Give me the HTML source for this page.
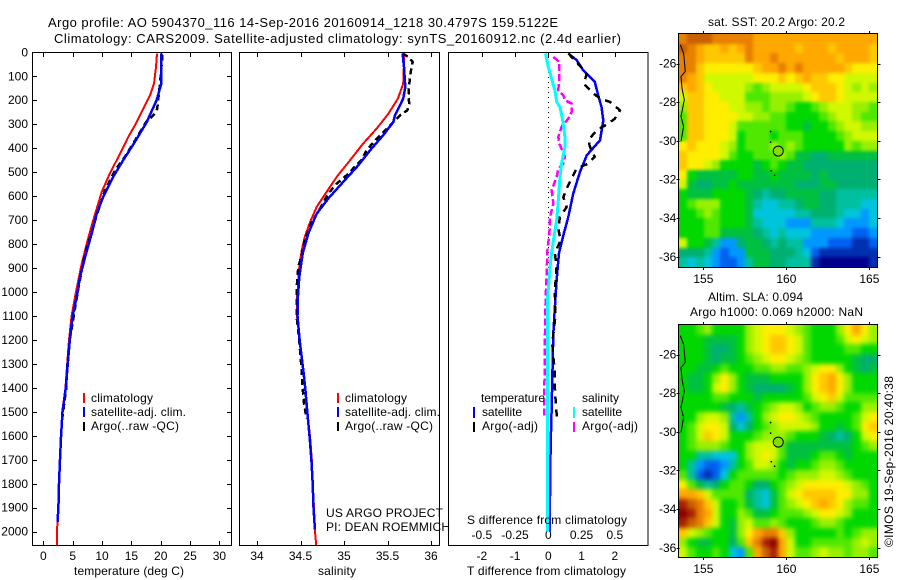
<!DOCTYPE html>
<html lang="en">
<head>
<meta charset="utf-8">
<title>Argo profile 5904370_116</title>
<style>
html,body{margin:0;padding:0;background:#fff;width:900px;height:580px;overflow:hidden}
svg{display:block}
text{font-family:"Liberation Sans",Arial,sans-serif;font-size:12px;fill:#000}
text.big{font-size:13px}
</style>
</head>
<body>
<svg id="figure" xmlns="http://www.w3.org/2000/svg" width="900" height="580" viewBox="0 0 900 580">
  <defs>
    <filter id="softSST" x="-5%" y="-5%" width="110%" height="110%" color-interpolation-filters="sRGB"><feGaussianBlur stdDeviation="1.6"/></filter>
    <filter id="softSLA" x="-5%" y="-5%" width="110%" height="110%" color-interpolation-filters="sRGB"><feGaussianBlur stdDeviation="2.5"/></filter>
  </defs>
  <rect x="0" y="0" width="900" height="580" fill="#fff"/>
  <text class="big" x="48" y="27" textLength="510" lengthAdjust="spacing">Argo profile: AO 5904370_116 14-Sep-2016 20160914_1218 30.4797S 159.5122E</text>
  <text class="big" x="54" y="43" textLength="567" lengthAdjust="spacing">Climatology: CARS2009. Satellite-adjusted climatology: synTS_20160912.nc (2.4d earlier)</text>

  <g id="panelT"></g>
  <g id="panelS"></g>
  <g id="panelD"></g>
  <g id="mapSST"></g>
  <g id="mapSLA"></g>

  <text x="74" y="575" textLength="110" lengthAdjust="spacing">temperature (deg C)</text>
  <text x="318" y="575" textLength="38" lengthAdjust="spacing">salinity</text>
  <text x="467" y="575" textLength="159" lengthAdjust="spacing">T difference from climatology</text>
  <text x="467" y="524" textLength="160" lengthAdjust="spacing">S difference from climatology</text>

  <g>
    <line x1="84" y1="393" x2="84" y2="403" stroke="#f00" stroke-width="2" shape-rendering="crispEdges"/>
    <line x1="84" y1="407" x2="84" y2="417" stroke="#00f" stroke-width="2" shape-rendering="crispEdges"/>
    <line x1="84" y1="422" x2="84" y2="431" stroke="#000" stroke-width="2" shape-rendering="crispEdges"/>
    <text x="91" y="402" textLength="62" lengthAdjust="spacing">climatology</text>
    <text x="91" y="416" textLength="95" lengthAdjust="spacing">satellite-adj. clim.</text>
    <text x="91" y="430" textLength="88" lengthAdjust="spacing">Argo(..raw -QC)</text>
  </g>
  <g>
    <line x1="338" y1="393" x2="338" y2="403" stroke="#f00" stroke-width="2" shape-rendering="crispEdges"/>
    <line x1="338" y1="407" x2="338" y2="417" stroke="#00f" stroke-width="2" shape-rendering="crispEdges"/>
    <line x1="338" y1="422" x2="338" y2="431" stroke="#000" stroke-width="2" shape-rendering="crispEdges"/>
    <text x="345" y="402" textLength="62" lengthAdjust="spacing">climatology</text>
    <text x="345" y="416" textLength="95" lengthAdjust="spacing">satellite-adj. clim.</text>
    <text x="345" y="430" textLength="88" lengthAdjust="spacing">Argo(..raw -QC)</text>
  </g>
  <text x="326" y="517" textLength="117" lengthAdjust="spacing">US ARGO PROJECT</text>
  <text x="326" y="531" textLength="124" lengthAdjust="spacing">PI: DEAN ROEMMICH</text>

  <g>
    <text x="481" y="402" textLength="64" lengthAdjust="spacing">temperature</text>
    <line x1="474" y1="407" x2="474" y2="418" stroke="#00f" stroke-width="2" shape-rendering="crispEdges"/>
    <text x="482" y="416" textLength="40" lengthAdjust="spacing">satellite</text>
    <line x1="474" y1="422" x2="474" y2="432" stroke="#000" stroke-width="2" shape-rendering="crispEdges"/>
    <text x="482" y="430" textLength="56" lengthAdjust="spacing">Argo(-adj)</text>
    <text x="582" y="402" textLength="37" lengthAdjust="spacing">salinity</text>
    <line x1="574" y1="407" x2="574" y2="418" stroke="#0ff" stroke-width="2" shape-rendering="crispEdges"/>
    <text x="582" y="416" textLength="40" lengthAdjust="spacing">satellite</text>
    <line x1="574" y1="422" x2="574" y2="432" stroke="#f0f" stroke-width="2" shape-rendering="crispEdges"/>
    <text x="582" y="430" textLength="56" lengthAdjust="spacing">Argo(-adj)</text>
  </g>

  <text x="708" y="26" textLength="137" lengthAdjust="spacing">sat. SST: 20.2 Argo: 20.2</text>
  <text x="708" y="301" textLength="95" lengthAdjust="spacing">Altim. SLA: 0.094</text>
  <text x="690" y="316" textLength="173" lengthAdjust="spacing">Argo h1000: 0.069 h2000: NaN</text>
  <text transform="translate(893,547) rotate(-90)" textLength="171" lengthAdjust="spacing">©IMOS 19-Sep-2016 20:40:38</text>
</svg>

<script>
// ---------- Chart data ----------
const depthTicks = [0,100,200,300,400,500,600,700,800,900,1000,1100,1200,1300,1400,1500,1600,1700,1800,1900,2000];
const tempTicks = [0,5,10,15,20,25,30];
const salTicks = [34,34.5,35,35.5,36];
const tDiffTicks = [-2,-1,0,1,2];
const tDiffTickLabels = ['-2','-1','0','1','2'];
const sDiffTicks = [-0.5,-0.25,0,0.25,0.5];
const sDiffTickLabels = ['-0.5','-0.25','0','0.25','0.5'];
const lonTicks = [155,160,165];
const latTicks = [-26,-28,-30,-32,-34,-36];

const tClimP = [5,61,131,180,235,291,353,409,464,520,583,652,722,798,882,951,1021,1100,1200,1327,1403,1500,1605,1700,1800,1900,2000,2055];
const tClimV = [19.36,19.2,18.85,18.17,17.03,15.9,14.47,13.34,12.2,11.06,9.93,9.08,8.23,7.38,6.53,5.95,5.39,4.8,4.36,3.97,3.75,3.2,3.0,2.85,2.68,2.55,2.3,2.3];
const tSatP = [5,131,200,291,374,450,520,603,673,756,854,937,1007,1100,1200,1327,1403,1500,1605,1700,1800,1900,1960];
const tSatV = [20.1,20.1,19.3,17.6,15.6,13.6,11.9,10.2,9.08,8.23,7.1,6.24,5.78,5.0,4.5,4.05,3.8,3.25,3.0,2.83,2.66,2.55,2.4];
const tArgoP = [10,131,235,256,291,381,450,492,575,686,742,839,880,1000,1200,1300,1400,1500,1530];
const tArgoV = [20.3,19.87,19.4,19.0,17.5,15.3,13.5,12.2,10.5,9.0,8.35,7.1,6.75,5.85,4.5,4.1,3.9,3.35,3.2];

const sClimP = [5,131,193,256,318,381,450,520,583,645,708,770,826,895,992,1034,1100,1200,1327,1403,1500,1605,1700,1800,1900,2000,2055];
const sClimV = [35.693,35.68,35.62,35.51,35.376,35.22,35.07,34.916,34.8,34.686,34.61,34.55,34.514,34.486,34.468,34.456,34.46,34.49,34.532,34.555,34.578,34.61,34.63,34.64,34.655,34.667,34.68];
const sSatP = [5,61,145,193,263,291,346,409,471,541,610,673,756,839,937,1034,1100,1200,1327,1403,1500,1605,1700,1800,1900,1990];
const sSatV = [35.674,35.69,35.705,35.68,35.586,35.567,35.45,35.3,35.165,34.99,34.82,34.686,34.59,34.525,34.486,34.468,34.465,34.49,34.532,34.555,34.578,34.605,34.625,34.64,34.65,34.665];
const sArgoP = [5,19,40,82,131,186,214,242,263,305,360,409,450,513,548,589,652,708,784,847,895,964,1100,1200,1327,1403,1465,1530];
const sArgoV = [35.674,35.74,35.79,35.767,35.75,35.74,35.75,35.728,35.644,35.53,35.376,35.26,35.2,35.03,34.916,34.82,34.724,34.63,34.55,34.514,34.475,34.46,34.455,34.485,34.514,34.525,34.54,34.57];

const dTSatP = [5,33,75,124,179,228,284,367,430,499,590,687,764,840,952,1034,1174,1493,1646,1855,2000];
const dTSatV = [0.6,0.853,1.05,1.4,1.5,1.6,1.655,1.555,1.155,0.953,0.75,0.6,0.45,0.32,0.25,0.21,0.15,0.1,0.07,0.05,0.05];
const dTArgoP = [5,33,89,131,165,193,207,242,277,298,325,367,395,436,464,485,513,569,604,646,687,736,784,840,895,993,1103,1215,1271,1334,1397,1453,1508,1522];
const dTArgoV = [0.6,0.8,1.155,1.075,1.3,1.555,1.855,2.155,2.0,1.8,1.455,1.205,1.255,1.4,1.205,0.853,0.75,0.55,0.45,0.55,0.35,0.3,0.37,0.2,0.25,0.2,0.21,0.12,0.15,0.2,0.2,0.22,0.25,0.25];
const dSSatP = [5,61,110,159,207,228,284,353,395,464,520,617,700,784,867,1034,1243,2000];
const dSSatV = [-0.02,0,0.025,0.05,0.063,0.088,0.108,0.125,0.125,0.1,0.088,0.075,0.063,0.038,0.018,-0.007,-0.007,-0.007];
const dSArgoP = [19,40,103,159,179,200,214,249,277,311,353,381,436,464,485,520,575,631,687,756,826,923,1032,1174,1453,1522];
const dSArgoV = [0.038,0.083,0.083,0.075,0.113,0.125,0.176,0.176,0.15,0.1,0.075,0.083,0.125,0.113,0.075,0.063,0.025,0.038,0.013,0.008,-0.007,-0.012,-0.02,-0.025,-0.03,-0.03];

// Map values: colour-scale level per cell (north to south, west to east)
const sstLevels = [
[15,16,16,16,15,15,15,15,15,14,14,14,14,14,14,14,14,14,14,14,14,14,14,14],
[16,15,14,13,13,14,13,14,15,14,14,14,14,14,13,14,14,14,13,14,14,14,14,13],
[15,15,14,13,13,13,13,13,15,14,14,15,14,14,14,14,14,14,14,13,14,14,14,13],
[15,15,13,12,12,12,12,12,12,13,14,14,15,14,15,14,14,14,14,14,13,12,12,12],
[15,14,13,11,11,11,11,11,11,12,12,12,13,12,13,14,13,13,12,12,11,11,11,11],
[13,14,13,12,11,11,11,11,10,9,10,11,11,11,11,12,13,13,13,12,11,10,11,10],
[11,13,13,12,12,11,11,11,9,9,9,10,10,10,10,11,12,13,13,12,11,11,11,11],
[10,13,13,12,12,12,11,11,10,10,9,10,10,9,8,8,9,10,11,11,11,10,10,9],
[9,13,13,12,12,12,12,11,11,10,10,9,9,8,8,8,8,9,10,11,11,10,9,9],
[9,13,13,12,12,12,11,9,9,9,9,9,9,8,8,7,8,8,9,10,11,11,10,10],
[9,13,13,12,12,12,11,8,9,9,9,8,9,9,9,8,8,8,8,9,10,11,11,11],
[12,13,12,12,12,11,10,8,9,9,9,10,9,10,9,8,8,8,8,8,10,9,10,10],
[13,12,12,12,12,11,9,8,8,9,9,9,10,9,7,7,6,6,7,7,7,7,7,7],
[13,12,12,11,10,8,8,8,8,7,8,9,8,7,7,6,6,6,6,6,6,6,6,6],
[12,8,7,7,7,7,7,8,8,7,7,8,7,7,7,7,6,7,6,6,6,6,6,6],
[11,7,6,6,7,7,8,7,7,7,7,7,7,7,6,6,6,7,7,6,6,6,6,6],
[8,7,7,7,8,8,8,8,7,6,5,6,6,7,7,7,7,6,6,5,5,5,5,5],
[8,9,10,10,10,8,8,8,7,5,4,4,5,5,6,7,7,6,6,5,5,5,4,4],
[8,8,9,10,9,8,8,8,7,4,4,4,4,4,5,5,6,6,6,5,4,4,3,4],
[8,8,8,9,9,8,8,8,7,5,4,4,4,3,3,3,5,5,5,4,3,3,3,4],
[8,8,8,9,9,7,7,7,7,6,5,4,5,4,4,4,3,3,3,3,3,2,2,3],
[11,8,8,7,5,3,3,6,7,7,6,5,6,5,5,3,3,3,2,2,2,1,1,2],
[6,6,6,5,3,2,3,3,7,7,7,6,6,6,5,4,2,1,1,1,1,1,1,1],
[5,4,5,4,3,2,2,3,5,7,7,6,6,5,5,5,1,0,0,0,0,0,0,1]
];
const slaLevels = [
[8,8,9,10,8,8,8,8,10,11,12,12,12,11,10,9,8,8,8,10,12,14,12,10],
[8,8,8,7,7,7,7,8,10,11,12,13,13,12,11,9,8,8,8,9,11,12,11,10],
[8,8,8,7,6,6,7,8,10,11,12,13,13,12,11,9,8,8,8,8,9,9,8,8],
[8,8,8,7,6,7,7,8,9,10,11,12,12,11,10,9,8,8,8,8,8,7,6,6],
[8,8,7,7,8,9,8,8,8,9,9,10,10,9,9,10,11,12,12,10,8,7,6,7],
[8,7,7,8,10,12,10,8,7,7,7,8,8,8,8,10,12,13,14,12,10,8,8,8],
[8,7,7,8,11,12,10,8,7,6,6,6,6,7,8,10,12,13,14,12,10,8,8,8],
[8,8,8,8,9,9,8,8,8,7,8,8,8,8,8,9,11,12,13,11,9,9,9,9],
[8,8,8,8,8,7,6,5,7,8,9,10,11,11,10,8,9,10,10,9,8,8,10,10],
[8,8,10,11,11,10,5,3,5,8,10,11,12,12,11,10,9,8,8,8,8,9,11,12],
[8,9,11,12,12,11,6,4,6,8,9,10,11,11,11,11,10,8,8,7,8,9,12,13],
[8,9,11,13,12,11,8,8,8,9,10,10,10,9,8,8,8,7,6,5,6,8,11,12],
[8,9,10,10,10,9,8,8,10,11,11,11,9,7,7,7,7,7,7,7,7,8,9,10],
[8,8,5,5,4,4,4,8,10,11,12,11,9,7,7,7,8,9,9,8,7,8,8,8],
[8,5,3,2,2,3,5,8,9,11,11,10,8,7,8,8,9,10,10,9,8,8,8,8],
[9,5,2,1,2,4,8,9,9,9,9,9,8,9,10,10,10,11,11,10,9,8,8,8],
[12,9,7,5,6,8,9,9,8,6,6,8,9,10,11,12,12,12,12,12,11,10,9,8],
[14,14,13,11,9,9,9,9,6,5,4,7,9,11,12,13,13,13,13,12,12,10,10,8],
[17,16,15,13,11,8,8,9,7,5,4,7,9,10,11,12,13,14,13,12,10,9,9,8],
[18,17,15,14,11,8,8,10,9,7,7,8,9,9,9,10,11,12,12,11,10,8,8,8],
[17,16,15,13,11,8,7,10,11,9,9,10,9,8,8,8,9,10,10,9,8,8,8,8],
[13,11,10,9,8,8,7,10,12,14,15,15,13,10,8,8,8,8,8,9,8,9,10,10],
[10,8,7,7,8,8,6,9,13,15,17,18,14,11,8,8,9,9,9,9,9,10,11,10],
[11,9,8,8,9,8,4,3,9,14,16,17,14,11,9,9,10,11,10,10,9,10,10,9]
];
const coastLon = [153.61,153.81,153.91,153.65,153.71,153.85,153.65,153.81,153.65];
const coastLat = [-25.03,-25.47,-26.41,-26.67,-27.28,-27.88,-28.74,-29.26,-30.03];
const reefLon = [159.05,159.05,159.09,159.29];
const reefLat = [-29.52,-30.07,-31.55,-31.78];
const floatLon = 159.51;
const floatLat = -30.53;

// ---------- Drawing ----------
const palette = ['#00008c','#0030b0','#0060f0','#0098ff','#00c4dc','#00c0a0','#00b070','#00c040','#00d800','#50e800','#98f000','#d0f800','#ffee00','#ffc800','#ffa800','#e88000','#c86000','#a82000','#880000'];
const NS = 'http://www.w3.org/2000/svg';
const TOP = 52, BOTTOM = 545;

function add(parent, tag, props, label) {
  const el = document.createElementNS(NS, tag);
  for (const k in props) el.setAttribute(k, props[k]);
  if (label !== undefined) el.textContent = label;
  parent.appendChild(el);
  return el;
}
const yDepth = p => 52.3 + 0.2397 * p;
const xTemp = t => 43.4 + 5.867 * t;
const xSal = s => 257 + 87 * (s - 34);
const xDT = d => 548.3 + 33.25 * d;
const xDS = d => 548.3 + 133 * d;

function frame(g, left, right, name) {
  const r = add(g, 'rect', {x:left, y:TOP+0.5, width:right-left, height:BOTTOM-TOP, fill:'none', stroke:'#000', 'stroke-width':1, 'shape-rendering':'crispEdges'});
  
  
}
function tick(g, x1, y1, x2, y2, name) {
  const l = add(g, 'line', {x1, y1, x2, y2, stroke:'#000', 'stroke-width':1, 'shape-rendering':'crispEdges'});
  
  
}
function label(g, x, y, anchor, str, name) {
  const t = add(g, 'text', {x, y, 'text-anchor':anchor}, str);
  
  
}
function series(g, xs, ps, xf, color, width, dash, name) {
  const pts = xs.map((v, i) => xf(v).toFixed(1) + ',' + yDepth(ps[i]).toFixed(1)).join(' ');
  const props = {points:pts, fill:'none', stroke:color, 'stroke-width':width, 'shape-rendering':'crispEdges', 'stroke-linejoin':'round'};
  if (dash) props['stroke-dasharray'] = dash;
  const l = add(g, 'polyline', props);
  
  
}

// Temperature panel
const gT = document.getElementById('panelT');
depthTicks.forEach(p => {
  const y = Math.round(yDepth(p)) + 0.5;
  tick(gT, 32, y, 37, y, 'depth-tick-left');
  tick(gT, 227, y, 232, y, 'depth-tick-right');
  label(gT, 28, yDepth(p) + 4, 'end', String(p), 'depth-tick-label');
});
tempTicks.forEach(t => {
  const x = Math.round(xTemp(t)) + 0.5;
  tick(gT, x, 52, x, 57, 'temperature-tick-top');
  tick(gT, x, 541, x, 545, 'temperature-tick-bottom');
  label(gT, xTemp(t), 560, 'middle', String(t), 'temperature-tick-label');
});
series(gT, tClimV, tClimP, xTemp, '#f00', 2, null, 'temperature-climatology-line');
series(gT, tArgoV, tArgoP, xTemp, '#000', 2.5, '6 4', 'temperature-argo-line');
series(gT, tSatV, tSatP, xTemp, '#00f', 2.5, null, 'temperature-satellite-line');
frame(gT, 32.5, 231.5, 'temperature-plot-frame');

// Salinity panel
const gS = document.getElementById('panelS');
salTicks.forEach(s => {
  const x = Math.round(xSal(s)) + 0.5;
  tick(gS, x, 52, x, 57, 'salinity-tick-top');
  tick(gS, x, 541, x, 545, 'salinity-tick-bottom');
  label(gS, xSal(s), 560, 'middle', String(s), 'salinity-tick-label');
});
series(gS, sClimV, sClimP, xSal, '#f00', 2, null, 'salinity-climatology-line');
series(gS, sArgoV, sArgoP, xSal, '#000', 2.5, '6 4', 'salinity-argo-line');
series(gS, sSatV, sSatP, xSal, '#00f', 2.5, null, 'salinity-satellite-line');
frame(gS, 239.5, 439.5, 'salinity-plot-frame');

// Difference panel
const gD = document.getElementById('panelD');
const zero = add(gD, 'line', {x1:548.5, y1:52, x2:548.5, y2:505, stroke:'#000', 'stroke-width':1, 'stroke-dasharray':'1 4', 'shape-rendering':'crispEdges'});


tDiffTicks.forEach((d, i) => {
  const x = Math.round(xDT(d)) + 0.5;
  tick(gD, x, 52, x, 57, 't-difference-tick-top');
  label(gD, xDT(d), 560, 'middle', tDiffTickLabels[i], 't-difference-tick-label');
});
sDiffTicks.forEach((d, i) => {
  label(gD, xDS(d), 539, 'middle', sDiffTickLabels[i], 's-difference-tick-label');
});
series(gD, dTSatV, dTSatP, xDT, '#00f', 2.5, null, 't-difference-satellite-line');
series(gD, dTArgoV, dTArgoP, xDT, '#000', 2.5, '7 6', 't-difference-argo-line');
series(gD, dSArgoV, dSArgoP, xDS, '#f0f', 2.5, '7 3', 's-difference-argo-line');
series(gD, dSSatV, dSSatP, xDS, '#0ff', 3, null, 's-difference-satellite-line');
frame(gD, 448.5, 648, 'difference-plot-frame');

// Maps
function drawMap(g, levels, top, bottom, name, softFilter) {
  const left = 679.3, right = 877.3;
  const lonMin = 153.55, lonPx = 16.6;
  const lat26 = top + 29.5, latPx = 19.33;
  const xLon = lon => left + (lon - lonMin) * lonPx;
  const yLat = lat => lat26 + (-26 - lat) * latPx;
  const rows = levels.length;
  const cols = levels[0].length;
  const W = 198, H = bottom - top, PAD = 14;
  const viewport = add(g, 'svg', {x:679, y:top, width:W, height:H});
  
  
  const cellGroup = add(viewport, 'g', {filter:softFilter});
  
  
  levels.forEach((row, r) => {
    row.forEach((v, c) => {
      let x0 = Math.round(c * W / cols);
      let x1 = Math.round((c + 1) * W / cols);
      let y0 = Math.round(r * H / rows);
      let y1 = Math.round((r + 1) * H / rows);
      if (c === 0) x0 -= PAD;
      if (c === cols - 1) x1 += PAD;
      if (r === 0) y0 -= PAD;
      if (r === rows - 1) y1 += PAD;
      const cell = add(cellGroup, 'rect', {x:x0, y:y0, width:x1 - x0, height:y1 - y0, fill:palette[v], 'shape-rendering':'crispEdges'});
      
      
    });
  });
  const coastPts = coastLon.map((lon, i) => xLon(lon).toFixed(1) + ',' + yLat(coastLat[i]).toFixed(1)).join(' ');
  const coast = add(g, 'polyline', {points:coastPts, fill:'none', stroke:'#000', 'stroke-width':1});
  
  
  reefLon.forEach((lon, i) => {
    const reef = add(g, 'circle', {cx:xLon(lon), cy:yLat(reefLat[i]), r:0.9, fill:'#000'});
    
    
  });
  const marker = add(g, 'circle', {cx:xLon(floatLon), cy:yLat(floatLat), r:5, fill:'#80e000', stroke:'#000', 'stroke-width':1});
  
  
  const border = add(g, 'rect', {x:Math.round(left) - 0.5, y:top - 0.5, width:right - left + 1, height:bottom - top + 1, fill:'none', stroke:'#000', 'stroke-width':1, 'shape-rendering':'crispEdges'});
  
  
  lonTicks.forEach(lon => {
    const x = Math.round(xLon(lon)) + 0.5;
    tick(g, x, top - 3, x, top, name + '-lon-tick-top');
    tick(g, x, bottom, x, bottom + 3, name + '-lon-tick-bottom');
    label(g, xLon(lon), bottom + 16, 'middle', String(lon), name + '-lon-label');
  });
  latTicks.forEach(lat => {
    const y = Math.round(yLat(lat)) + 0.5;
    tick(g, left - 3, y, left, y, name + '-lat-tick-left');
    tick(g, right, y, right + 3, y, name + '-lat-tick-right');
    label(g, left - 3, yLat(lat) + 4, 'end', String(lat), name + '-lat-label');
  });
}
drawMap(document.getElementById('mapSST'), sstLevels, 34, 267, 'sst-map', 'url(#softSST)');
drawMap(document.getElementById('mapSLA'), slaLevels, 325, 557, 'sla-map', 'url(#softSLA)');
</script>
</body>
</html>
